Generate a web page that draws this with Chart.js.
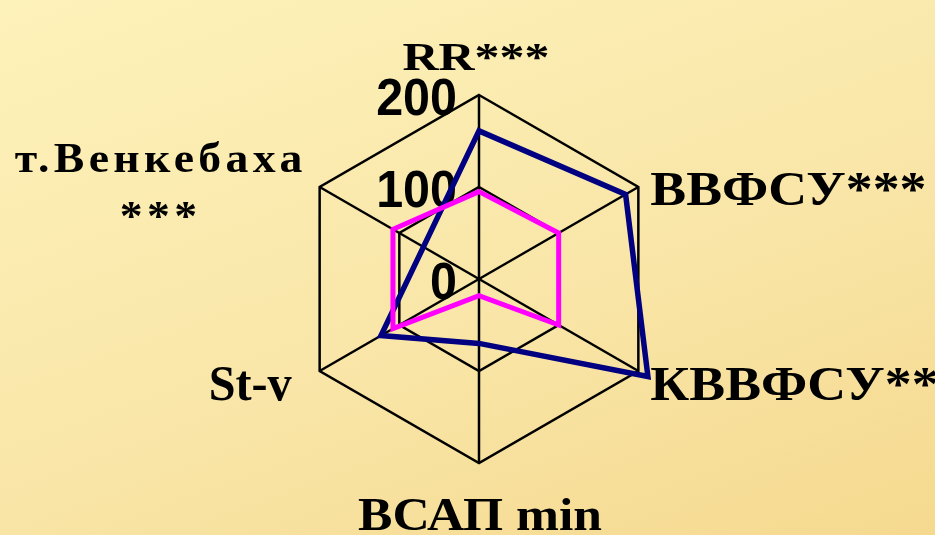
<!DOCTYPE html>
<html><head><meta charset="utf-8">
<script src="https://cdn.jsdelivr.net/npm/chart.js@4.4.1/dist/chart.umd.min.js"></script>
<style>
html,body{margin:0;padding:0;width:935px;height:535px;overflow:hidden;
background:linear-gradient(160deg,#fdf2ba 0%,#f9e6a8 55%,#f5d98f 100%);}
#wrap{position:relative;width:935px;height:535px;}
</style></head><body>
<div id="wrap"><canvas id="c" width="935" height="535"></canvas></div>
<script>
// ---- data ----
const categories = [['RR***'], ['ВВФСУ***'], ['КВВФСУ**'], ['ВСАП min'], ['St-v'], ['т.Венкебаха', '***']];
const seriesBlue = [161, 184, 212, 70, 123, null];
const seriesPink = [95, 100, 100, 18, 108, 108];
const tickValues = [0, 100, 200];

// ---- layout of category labels (relative to each axis end) ----
const labelLayout = [
  {size: 40, w: 147, align: 'center', dx: -3, dy: -25},
  {size: 48, sx: 1.12, align: 'left', dx: 12, dy: 18},
  {size: 48, sx: 1.12, align: 'left', dx: 12, dy: 29},
  {size: 46, w: 244, align: 'center', dx: 1, dy: 67},
  {size: 50, w: 83, align: 'right', dx: -28, dy: 29},
  {size: 42, w: 292, align: 'center', dx: -159, dy: -15, lineGap: 58, spacing: 4}
];

const tickPlugin = {
  id: 'tickText',
  beforeDatasetsDraw(chart) {
    const s = chart.scales.r, ctx = chart.ctx;
    ctx.save();
    ctx.font = 'bold 51px "Liberation Sans", Arial, sans-serif';
    ctx.fillStyle = '#000';
    ctx.textAlign = 'right';
    ctx.textBaseline = 'middle';
    s.ticks.forEach(t => {
      const d = s.getDistanceFromCenterForValue(t.value);
      ctx.save();
      ctx.translate(s.xCenter - 22, s.yCenter - d + 6);
      ctx.scale(0.95, 1);
      ctx.fillText(String(t.value), 0, 0);
      ctx.restore();
    });
    ctx.restore();
  }
};

const labelPlugin = {
  id: 'catLabels',
  afterDraw(chart) {
    const s = chart.scales.r, ctx = chart.ctx;
    categories.forEach((lines, i) => {
      const L = labelLayout[i];
      const p = s.getPointPosition(i, s.drawingArea);
      ctx.save();
      ctx.font = 'bold ' + L.size + 'px "Liberation Serif", "Times New Roman", serif';
      if (L.spacing) ctx.letterSpacing = L.spacing + 'px';
      ctx.fillStyle = '#000';
      ctx.textAlign = L.align;
      ctx.textBaseline = 'alphabetic';
      const m = ctx.measureText(lines[0]).width;
      const sx = L.w ? L.w / m : L.sx;
      lines.forEach((txt, k) => {
        ctx.save();
        ctx.translate(p.x + L.dx, p.y + L.dy + k * (L.lineGap || 0));
        ctx.scale(sx, 1);
        ctx.fillText(txt, 0, 0);
        ctx.restore();
      });
      ctx.restore();
    });
  }
};

new Chart(document.getElementById('c'), {
  type: 'radar',
  data: {
    labels: categories,
    datasets: [
      {data: seriesPink, borderColor: '#ff00ff', borderWidth: 5, pointRadius: 0, fill: false, spanGaps: true, clip: false, borderJoinStyle: 'miter'},
      {data: seriesBlue, borderColor: '#000080', borderWidth: 5.5, pointRadius: 0, fill: false, spanGaps: true, clip: false, borderJoinStyle: 'miter'}
    ]
  },
  options: {
    responsive: false,
    animation: false,
    layout: {padding: {left: 295, right: 272, top: 95, bottom: 72}},
    plugins: {legend: {display: false}, tooltip: {enabled: false}},
    scales: {
      r: {
        min: tickValues[0],
        max: tickValues[tickValues.length - 1],
        ticks: {display: false, stepSize: tickValues[1] - tickValues[0]},
        grid: {color: '#000', lineWidth: 2.5},
        angleLines: {color: '#000', lineWidth: 2.5},
        pointLabels: {display: false}
      }
    }
  },
  plugins: [tickPlugin, labelPlugin]
});
</script>
</body></html>
